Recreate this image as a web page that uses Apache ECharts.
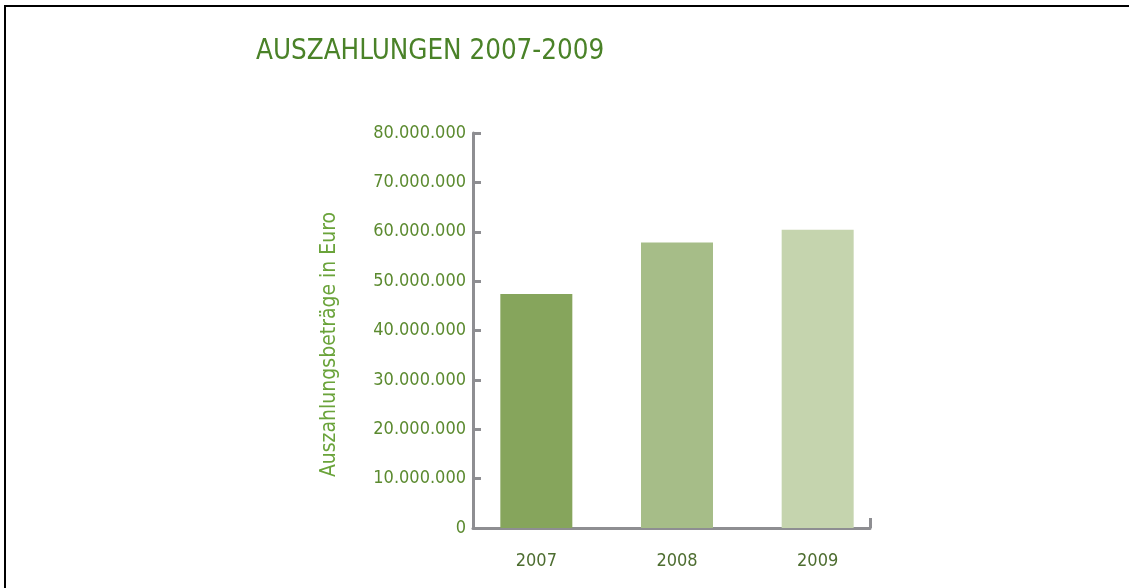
<!DOCTYPE html>
<html>
<head>
<meta charset="utf-8">
<title>Auszahlungen 2007-2009</title>
<script src="https://cdn.jsdelivr.net/npm/echarts@6/dist/echarts.min.js"></script>
<style>
  html, body { margin: 0; padding: 0; background: #ffffff; }
  #wrap { position: relative; width: 1129px; height: 588px; overflow: hidden; }
  #frame {
    position: absolute; left: 4px; top: 5px; right: -10px; bottom: -10px;
    border-top: 2px solid #000; border-left: 2px solid #000;
  }
  #chart { position: absolute; left: 0; top: 0; width: 1129px; height: 588px; }
</style>
</head>
<body>
<div id="wrap">
  <div id="frame"></div>
  <div id="chart"></div>
</div>
<script>
// Daten
const years = ['2007', '2008', '2009']
const payouts = [47400000, 57800000, 60400000]
const barColors = ['#86a55c', '#a6bd88', '#c5d4ae']
const yTicks = { min: 0, max: 80000000, interval: 10000000 }

const fontFamily = '"DejaVu Sans Condensed", "Roboto", sans-serif'
const axisGrey = '#8e8e92'

const formatEuro = v => String(v).replace(/\B(?=(\d{3})+(?!\d))/g, '.')

const chart = echarts.init(document.getElementById('chart'), null, { renderer: 'canvas' })

const option = {
  animation: false,
  title: {
    text: 'AUSZAHLUNGEN 2007-2009',
    left: 251,
    top: 33,
    textStyle: {
      fontFamily,
      fontSize: 27.5,
      fontWeight: 'normal',
      color: '#4a8228'
    }
  },
  grid: [
    // Achsen
    { left: 473, right: 259, top: 133, bottom: 60 },
    // Balken
    { left: 466, right: 241, top: 133, bottom: 60 }
  ],
  xAxis: [
    {
      gridIndex: 0,
      type: 'value',
      min: 0,
      max: 1,
      interval: 1,
      axisLine: { show: true, lineStyle: { color: axisGrey, width: 3 } },
      axisTick: { show: true, inside: true, length: 10, lineStyle: { color: axisGrey, width: 3 } },
      axisLabel: { show: false },
      splitLine: { show: false }
    },
    {
      gridIndex: 1,
      type: 'category',
      data: years,
      axisLine: { show: false },
      axisTick: { show: false },
      axisLabel: {
        margin: 24,
        fontFamily,
        fontSize: 18,
        color: '#4d6d30'
      }
    }
  ],
  yAxis: [
    {
      gridIndex: 0,
      type: 'value',
      min: yTicks.min,
      max: yTicks.max,
      interval: yTicks.interval,
      name: 'Auszahlungsbeträge in Euro',
      nameLocation: 'middle',
      nameGap: 133,
      nameTextStyle: {
        fontFamily,
        fontSize: 21,
        color: '#6aa33a',
        padding: [0, 28, 0, 0]
      },
      axisLine: { show: true, lineStyle: { color: axisGrey, width: 3 } },
      axisTick: { show: true, inside: true, length: 8, lineStyle: { color: axisGrey, width: 3 } },
      axisLabel: {
        margin: 7,
        fontFamily,
        fontSize: 18,
        color: '#5b8a2f',
        formatter: formatEuro
      },
      splitLine: { show: false }
    },
    {
      gridIndex: 1,
      type: 'value',
      min: yTicks.min,
      max: yTicks.max,
      interval: yTicks.interval,
      show: false
    }
  ],
  series: [
    {
      type: 'bar',
      xAxisIndex: 1,
      yAxisIndex: 1,
      barWidth: 72,
      z: 1,
      data: payouts.map((v, i) => ({ value: v, itemStyle: { color: barColors[i] } }))
    }
  ]
}

chart.setOption(option)
</script>
</body>
</html>
